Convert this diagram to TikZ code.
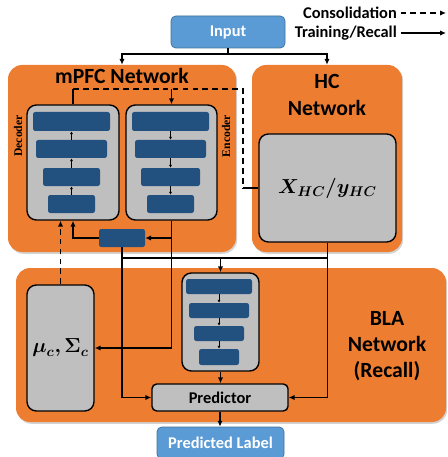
\documentclass[tikz,border=0pt]{standalone}
\usepackage{fontspec}
\usepackage{amsmath,bm}
\usetikzlibrary{arrows.meta,fit,shadows}
\newfontfamily\calibri{Carlito}
\newfontfamily\timesbf{Liberation Serif}
\definecolor{netorange}{RGB}{237,125,49}
\definecolor{memgray}{RGB}{191,191,191}
\definecolor{layerblue}{RGB}{34,81,127}
\definecolor{ioblue}{RGB}{91,155,213}
\definecolor{ioedge}{RGB}{65,113,156}

\begin{document}
\begin{tikzpicture}[x=0.03cm, y=-0.03cm, font=\calibri\bfseries\fontsize{14}{17}\selectfont,
  >={Latex[length=5pt,width=4.5pt]},
  netbox/.style={fill=netorange, rounded corners=12pt, inner sep=0pt,
    drop shadow={opacity=.35,shadow xshift=1pt,shadow yshift=-1.5pt}},
  membox/.style={draw=black, line width=1.2pt, fill=memgray, rounded corners=8pt, inner sep=0pt},
  layerbox/.style={fill=layerblue, rounded corners=2pt, inner sep=0pt},
  iobox/.style={fill=ioblue, draw=ioedge, line width=.6pt, rounded corners=4pt, inner sep=0pt},
  iotext/.style={text=white, inner sep=0pt},
  bigmath/.style={font=\fontsize{18}{20}\selectfont, inner sep=0pt},
  nettitle/.style={font=\calibri\bfseries\fontsize{18.5}{22.5}\selectfont, align=center},
  sidelabel/.style={rotate=90, font=\timesbf\bfseries\fontsize{10}{12}\selectfont},
  wire/.style={line width=1.1pt},
  consol/.style={dash pattern=on 5pt off 3.5pt},
  layerarrow/.style={line width=.6pt, -{Latex[length=2.5pt,width=2.5pt]}}]

  \useasboundingbox (0,0) rectangle (447,457);

  % legend
  \node[anchor=east, inner sep=0pt] (lgcons) at (397,13) {Consolidation};
  \node[anchor=east, inner sep=0pt] (lgtrain) at (397,33) {Training/Recall};
  \coordinate (lgconsend) at (446,13);
  \coordinate (lgtrainend) at (446,33);
  \draw[wire,consol,->] ([xshift=3pt]lgcons.east) -- (lgconsend);
  \draw[wire,->] ([xshift=3pt]lgtrain.east) -- (lgtrainend);

  % networks
  \node[netbox, fit={(8,65) (236,252)}] (mpfc) {};
  \node[netbox, fit={(252,65) (402,252)}] (hc) {};
  \node[netbox, fit={(16,268) (446,422)}] (bla) {};
  \node[nettitle] (mpfclbl) at (122,76) {mPFC Network};
  \node[nettitle] (hclbl) at (327,95) {HC\\Network};
  \node[nettitle] (blalbl) at (387,346) {BLA\\Network\\(Recall)};

  \node[iobox, fit={(171,16) (285,48)}, label={[iotext]center:Input}] (inp) {};

  % memories and autoencoder
  \node[membox, fit={(27,105) (119,220)}] (dec) {};
  \node[membox, fit={(126,105) (217,220)}] (enc) {};
  \node[membox, fit={(259,134) (396,242)}, label={[bigmath]center:$\bm{X_{HC}/y_{HC}}$}] (hcmem) {};
  \node[membox, fit={(27,285) (94,411)}, label={[bigmath]center:$\bm{\mu_c, \Sigma_c}$}] (musig) {};
  \node[membox, fit={(182,273) (259,371)}] (blamem) {};
  \node[sidelabel] (declbl) at (18,136) {Decoder};
  \node[sidelabel] (enclbl) at (226,136) {Encoder};

  \node[layerbox, fit={(33,112) (110,131)}] (d1) {};
  \node[layerbox, fit={(36,140) (107,158)}] (d2) {};
  \node[layerbox, fit={(43,168) (100,186)}] (d3) {};
  \node[layerbox, fit={(48,195) (95,213)}] (d4) {};
  \node[layerbox, fit={(132,112) (209,131)}] (e1) {};
  \node[layerbox, fit={(135,140) (206,158)}] (e2) {};
  \node[layerbox, fit={(141,168) (200,186)}] (e3) {};
  \node[layerbox, fit={(147,195) (194,213)}] (e4) {};
  \node[layerbox, fit={(186,279) (252,294)}] (b1) {};
  \node[layerbox, fit={(189,303) (249,318)}] (b2) {};
  \node[layerbox, fit={(194,326) (244,341)}] (b3) {};
  \node[layerbox, fit={(199,349) (239,365)}] (b4) {};
  \node[layerbox, fit={(99,229) (145,247)}] (lat) {};

  \draw[layerarrow] (d4.north) -- (d3.south);
  \draw[layerarrow] (d3.north) -- (d2.south);
  \draw[layerarrow] (d2.north) -- (d1.south);
  \draw[layerarrow] (e1.south) -- (e2.north);
  \draw[layerarrow] (e2.south) -- (e3.north);
  \draw[layerarrow] (e3.south) -- (e4.north);
  \draw[layerarrow] (b1.south) -- (b2.north);
  \draw[layerarrow] (b2.south) -- (b3.north);
  \draw[layerarrow] (b3.south) -- (b4.north);

  \node[membox, fit={(152,384) (288,411)}, rounded corners=4pt, label={[inner sep=0pt]center:Predictor}] (pred) {};
  \node[iobox, fit={(157,427) (284,459)}, label={[iotext]center:Predicted Label}] (plabel) {};

  % input split
  \coordinate (split) at (228,54);
  \draw[wire] (inp.south) -- (split);
  \draw[wire,->] (split) -| (mpfc.north);
  \draw[wire,->] (split) -| (hc.north);

  % consolidation loop
  \coordinate (cA) at (73,89);
  \coordinate (cB) at (243,89);
  \coordinate (cC) at (243,188);
  \draw[wire] (dec.north) -- (cA);
  \draw[wire,consol] (cA) -- (cB) -- (cC);
  \draw[wire] (cC) -- (hcmem.west);
  \draw[wire,->] (enc.north |- cA) -- (enc.north);
  \draw[wire,consol,->] (musig.north) -- (musig.north |- dec.south);

  % training / recall
  \coordinate (encout) at (enc.south |- musig.east);
  \draw[wire,->] (enc.south) -- (encout) -- (musig.east);
  \draw[wire,->] (enc.south |- lat.east) -- (lat.east);
  \draw[wire,->] (lat.west) -| (dec.south);
  \draw[wire,->] (lat.south) |- (pred.west);
  \coordinate (busL) at (122,258);
  \draw[wire] (busL) -- (hcmem.south |- busL);
  \draw[wire,->] (blamem.north |- busL) -- (blamem.north);
  \draw[wire,->] (hcmem.south) |- (pred.east);
  \draw[wire,->] (blamem.south) -- (blamem.south |- pred.north);
  \draw[wire,->] (pred.south) -- (pred.south |- plabel.north);
\end{tikzpicture}
\end{document}
